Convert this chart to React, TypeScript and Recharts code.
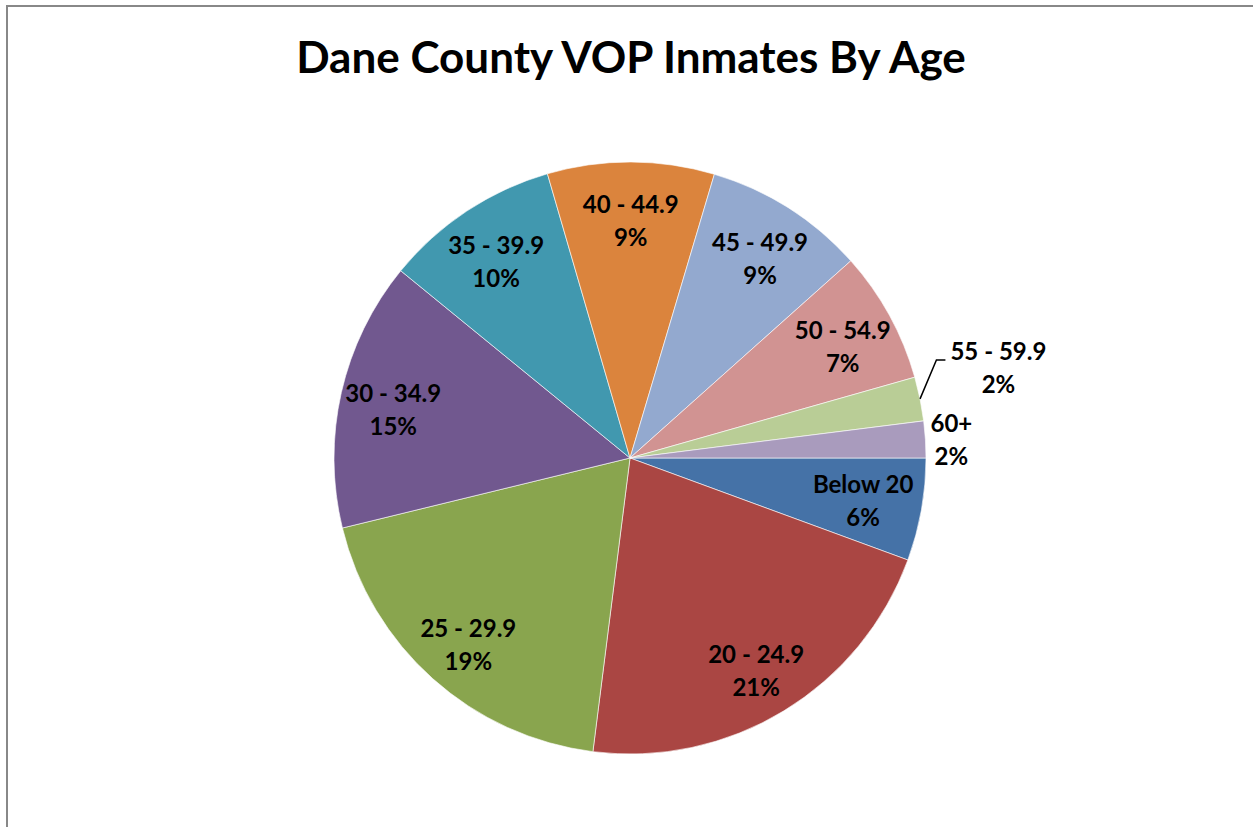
import React from 'react';
import { PieChart, Pie, Cell } from 'recharts';

const AGE_GROUPS = ['Below 20', '20 - 24.9', '25 - 29.9', '30 - 34.9', '35 - 39.9', '40 - 44.9', '45 - 49.9', '50 - 54.9', '55 - 59.9', '60+'];
const SHARES = [5.6, 21.4, 19.2, 14.7, 9.6, 9.1, 8.8, 7.2, 2.4, 2.0];
const COLORS = ['#4572A7', '#AA4643', '#89A54E', '#71588F', '#4198AF', '#DB843D', '#93A9CF', '#D19392', '#B9CD96', '#A99BBD'];

const data = AGE_GROUPS.map((name, i) => ({ name, value: SHARES[i] }));

const RADIAN = Math.PI / 180;
const FONT = 'Lato, "Open Sans", sans-serif';

// labels sit inside the big slices, small ones go outside (first of them with a leader line)
const renderLabel = (props: any) => {
  const { cx, cy, midAngle, outerRadius, percent, name, index } = props;
  const cos = Math.cos(-midAngle * RADIAN);
  const sin = Math.sin(-midAngle * RADIAN);
  let r = outerRadius * 0.82;
  let dy = 4;
  if (index === 0) { r = outerRadius * 0.8; dy = 0; }
  if (index === 8) { r = outerRadius + 80; dy = -17; }
  if (index === 9) { r = outerRadius + 26; dy = 0; }
  const tx = cx + r * cos;
  const ty = cy + r * sin + dy;
  const pct = Math.round(percent * 100) + '%';
  let leader = null;
  if (index === 8) {
    const sx = cx + outerRadius * cos;
    const sy = cy + outerRadius * sin;
    leader = (
      <polyline
        points={`${sx},${sy} ${tx - 62},${ty - 6} ${tx - 53},${ty - 6}`}
        fill="none"
        stroke="#000"
        strokeWidth={1.5}
      />
    );
  }
  return (
    <g>
      {leader}
      <text x={tx} y={ty} textAnchor="middle" fontFamily={FONT} fontWeight="bold" fontSize={24} fill="#000">
        <tspan x={tx} y={ty - 6}>{name}</tspan>
        <tspan x={tx} y={ty + 27}>{pct}</tspan>
      </text>
    </g>
  );
};

export default function App() {
  return (
    <div style={{ position: 'fixed', left: 0, top: 0, width: 1253, height: 827, overflow: 'hidden', background: '#fff' }}>
      <div style={{ position: 'absolute', left: 6, top: 5, width: 1300, height: 900, borderLeft: '2px solid #888', borderTop: '2px solid #888' }} />
      <div style={{ position: 'absolute', left: 0, top: 30, width: 1262, textAlign: 'center', fontFamily: FONT, fontWeight: 'bold', fontSize: 44, color: '#000' }}>
        Dane County VOP Inmates By Age
      </div>
      <div style={{ position: 'absolute', left: 0, top: 0 }}>
        <PieChart width={1253} height={827} margin={{ top: 0, right: 0, bottom: 0, left: 0 }}>
          <Pie
            data={data}
            dataKey="value"
            nameKey="name"
            cx={630}
            cy={458}
            outerRadius={296}
            startAngle={0}
            endAngle={-360}
            stroke="#fff"
            strokeWidth={1}
            strokeOpacity={0.6}
            label={renderLabel}
            labelLine={false}
            isAnimationActive={false}
          >
            {data.map((d, i) => (
              <Cell key={d.name} fill={COLORS[i]} />
            ))}
          </Pie>
        </PieChart>
      </div>
    </div>
  );
}
